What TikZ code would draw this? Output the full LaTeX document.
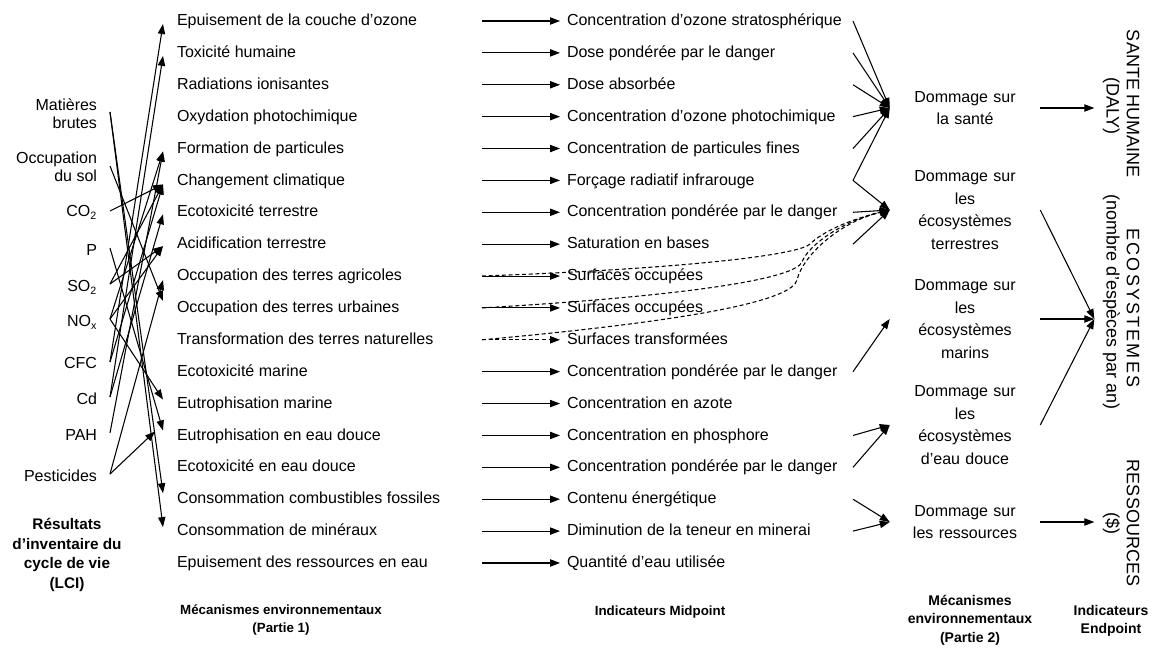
\documentclass[tikz,border=0pt]{standalone}
\usepackage{fontspec}
\setmainfont{Liberation Sans}
\usetikzlibrary{arrows.meta,calc}
\begin{document}
\begin{tikzpicture}[x=0.75pt,y=-0.75pt,
  every node/.style={font=\fontsize{12}{14}\selectfont},
  mech/.style={anchor=west,inner sep=0pt,outer xsep=10.5pt,text height=9pt,text depth=2pt},
  mid/.style={anchor=west,inner sep=0pt,outer xsep=5.25pt,text height=9pt,text depth=2pt},
  lci/.style={anchor=east,inner sep=0pt,outer xsep=9.75pt,align=right,font=\fontsize{12}{13.5}\selectfont},
  lcione/.style={lci,text height=9pt,text depth=2pt},
  dmg/.style={align=center,text width=82.5pt,inner xsep=15pt,inner ysep=0pt,font=\fontsize{12}{16.9}\selectfont},
  ept/.style={rotate=-90,inner sep=0pt,font=\fontsize{13.5}{16}\selectfont},
  eptsub/.style={rotate=-90,inner sep=0pt,outer ysep=6pt,text height=9.7pt,text depth=3.3pt,font=\fontsize{13.5}{16}\selectfont},
  ttl/.style={align=center,inner sep=0pt,font=\bfseries\fontsize{10}{13.5}\selectfont},
  ttlb/.style={ttl,font=\bfseries\fontsize{10.5}{14}\selectfont},
  conn/.style={line width=0.8pt,-{Triangle[length=7.5pt,width=5.5pt]}},
  dashconn/.style={conn,dash pattern=on 3pt off 2pt},
]
\useasboundingbox (0,0) rectangle (1157,647);

% impact categories and their midpoint indicators
\foreach \i/\mt/\pt in {
  1/{Epuisement de la couche d’ozone}/{Concentration d’ozone stratosphérique},
  2/{Toxicité humaine}/{Dose pondérée par le danger},
  3/{Radiations ionisantes}/{Dose absorbée},
  4/{Oxydation photochimique}/{Concentration d’ozone photochimique},
  5/{Formation de particules}/{Concentration de particules fines},
  6/{Changement climatique}/{Forçage radiatif infrarouge},
  7/{Ecotoxicité terrestre}/{Concentration pondérée par le danger},
  8/{Acidification terrestre}/{Saturation en bases},
  9/{Occupation des terres agricoles}/{Surfaces occupées},
  10/{Occupation des terres urbaines}/{Surfaces occupées},
  11/{Transformation des terres naturelles}/{Surfaces transformées},
  12/{Ecotoxicité marine}/{Concentration pondérée par le danger},
  13/{Eutrophisation marine}/{Concentration en azote},
  14/{Eutrophisation en eau douce}/{Concentration en phosphore},
  15/{Ecotoxicité en eau douce}/{Concentration pondérée par le danger},
  16/{Consommation combustibles fossiles}/{Contenu énergétique},
  17/{Consommation de minéraux}/{Diminution de la teneur en minerai},
  18/{Epuisement des ressources en eau}/{Quantité d’eau utilisée}} {
  \pgfmathsetmacro\yy{21+(\i-1)*31.88}
  \node[mech] (m\i) at (163,\yy) {\mt};
  \coordinate (s\i) at (482,\yy);
  \node[mid] (p\i) at (560,\yy) {\pt};
  \coordinate (r\i) at (853,\yy);
}

% inventory flows
\node[lci] (lMB) at (110,114) {Matières\\brutes};
\node[lci] (lOS) at (110,167) {Occupation\\du sol};
\node[lcione] (lCO) at (110,212) {CO\textsubscript{2}};
\node[lcione] (lP) at (110,251) {P};
\node[lcione] (lSO) at (110,287) {SO\textsubscript{2}};
\node[lcione] (lNO) at (110,322) {NO\textsubscript{x}};
\node[lcione] (lCF) at (110,364) {CFC};
\node[lcione] (lCd) at (110,400) {Cd};
\node[lcione] (lPA) at (110,436) {PAH};
\node[lcione] (lPe) at (110,477) {Pesticides};

% damage categories
\node[dmg] (dH) at (965,108) {Dommage sur\\la santé};
\node[dmg] (dT) at (965,210) {Dommage sur\\les\\écosystèmes\\terrestres};
\node[dmg] (dM) at (965,319) {Dommage sur\\les\\écosystèmes\\marins};
\node[dmg] (dF) at (965,425) {Dommage sur\\les\\écosystèmes\\d’eau douce};
\node[dmg] (dR) at (965,522) {Dommage sur\\les ressources};

% endpoints
\node[ept] (eS) at (1133,104) {SANTE HUMAINE};
\node[eptsub] (eSs) at (1111,106) {(DALY)};
\node[ept] (eE) at (1133,308) {\addfontfeature{LetterSpace=12}ECOSYSTEMES};
\node[eptsub] (eEs) at (1111,302) {(nombre d’espèces par an)};
\node[ept] (eR) at (1133,523) {RESSOURCES};
\node[eptsub] (eRs) at (1111,523) {(\$)};

% column titles
\node[ttl,font=\bfseries\fontsize{11.5}{14.6}\selectfont] (tL) at (67,555) {Résultats\\d’inventaire du\\cycle de vie\\(LCI)};
\node[ttl] (t1) at (281,620) {Mécanismes environnementaux\\(Partie 1)};
\node[ttl] (t2) at (660,612) {Indicateurs Midpoint};
\node[ttlb] (t3) at (970,620) {Mécanismes\\environnementaux\\(Partie 2)};
\node[ttlb] (t4) at (1111,621) {Indicateurs\\Endpoint};

% inventory flows to impact categories
\draw[conn] ($(lMB.east)+(0,-2)$) -- ($(m16.west)+(0,-6)$);
\draw[conn] ($(lMB.east)+(0,-2)$) -- ($(m17.west)+(0,-4)$);
\draw[conn] ($(lOS.east)+(0,-1)$) -- ($(m10.west)+(0,-7)$);
\draw[conn] ($(lCO.east)+(0,-1)$) -- ($(m6.west)+(0,4)$);
\draw[conn] ($(lP.east)+(0,-3)$) -- ($(m14.west)+(0,-5)$);
\draw[conn] ($(lSO.east)+(0,-3)$) -- ($(m8.west)+(0,2)$);
\draw[conn] ($(lSO.east)+(0,-3)$) -- ($(m6.west)+(0,4)$);
\draw[conn] ($(lNO.east)+(0,-3)$) -- ($(m5.west)+(0,3)$);
\draw[conn] ($(lNO.east)+(0,-3)$) -- ($(m8.west)+(0,2)$);
\draw[conn] ($(lNO.east)+(0,-3)$) -- ($(m13.west)+(0,-4)$);
\draw[conn] ($(lCF.east)+(0,-2)$) -- ($(m1.west)+(0,3)$);
\draw[conn] ($(lCF.east)+(0,-2)$) -- ($(m6.west)+(0,4)$);
\draw[conn] ($(lCd.east)+(0,-3)$) -- ($(m2.west)+(0,3)$);
\draw[conn] ($(lCd.east)+(0,-3)$) -- ($(m7.west)+(0,2)$);
\draw[conn] ($(lPA.east)+(0,-3)$) -- ($(m5.west)+(0,3)$);
\draw[conn] ($(lPe.east)+(0,-3)$) -- ($(m9.west)+(0,4)$);
\draw[conn] ($(lPe.east)+(0,-3)$) -- ($(m14.west)+(-8,-4)$);

% impact categories to midpoint indicators
\foreach \i in {1,...,10,12,13,...,18}
  \draw[conn] (s\i) -- (p\i.west);
\draw[dashconn] (s11) -- (p11.west);

% midpoint indicators to damage categories
\foreach \i in {1,...,6}
  \draw[conn] (r\i) -- (dH.west);
\foreach \i in {6,7,8}
  \draw[conn] (r\i) -- (dT.west);
\draw[dashconn] (s9) .. controls (700,268) and (800,254) .. (810,244)
  .. controls (818,236) and (840,222) .. (dT.west);
\draw[dashconn] (s10) .. controls (700,295) and (795,278) .. (802,262)
  .. controls (808,246) and (840,222) .. (dT.west);
\draw[dashconn] (s11) .. controls (700,320) and (792,300) .. (797,280)
  .. controls (803,255) and (840,222) .. (dT.west);
\draw[conn] (r12) -- (dM.west);
\draw[conn] (r14) -- (dF.west);
\draw[conn] (r15) -- (dF.west);
\draw[conn] (r16) -- (dR.west);
\draw[conn] (r17) -- (dR.west);

% damage categories to endpoints
\draw[conn] (dH.east) -- (eSs.south |- dH.east);
\draw[conn] (dT.east) -- (eEs.south |- dM.east);
\draw[conn] (dM.east) -- (eEs.south |- dM.east);
\draw[conn] (dF.east) -- (eEs.south |- dM.east);
\draw[conn] (dR.east) -- (eRs.south |- dR.east);
\end{tikzpicture}
\end{document}
